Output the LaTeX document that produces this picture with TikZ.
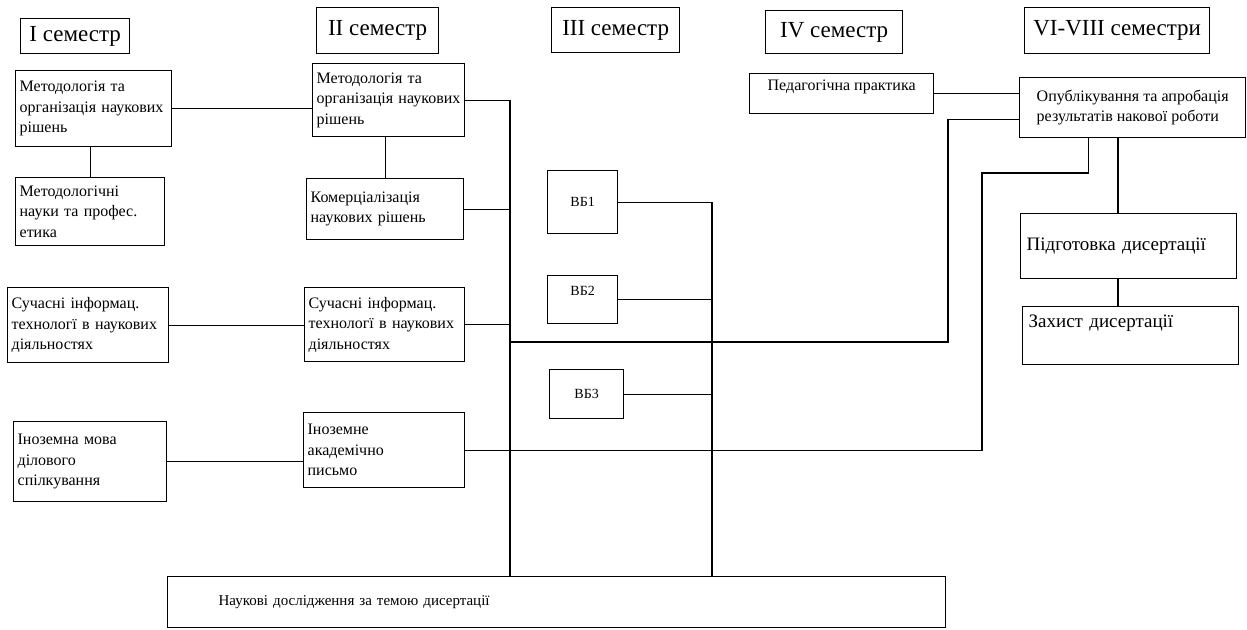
\documentclass[tikz,border=0pt]{standalone}
\usepackage{fontspec}
\setmainfont{Liberation Serif}
\usepackage{tikz}
\usetikzlibrary{calc}

\begin{document}
\begin{tikzpicture}[x=1pt, y=-1pt,
  box/.style={draw, line width=1.3pt, inner xsep=4pt, inner ysep=0pt, anchor=north west, align=left, font=\fontsize{16}{20.5}\selectfont},
  sem/.style={box, align=center, font=\fontsize{23}{27}\selectfont},
  big/.style={box, inner xsep=6pt, font=\fontsize{19}{23}\selectfont},
  link/.style={line width=1.2pt}]

\fill[white] (0,0) rectangle (1247,629);
\useasboundingbox (0,0) rectangle (1247,629);

% semesters
\node[sem, minimum width=109pt, minimum height=35pt] (sem1) at (20,18) {I семестр};
\node[sem, minimum width=122pt, minimum height=46pt] (sem2) at (316,7) {II семестр};
\node[sem, minimum width=128pt, minimum height=45pt] (sem3) at (551,7) {III семестр};
\node[sem, minimum width=137pt, minimum height=43pt] (sem4) at (765,10) {IV семестр};
\node[sem, minimum width=185pt, minimum height=46pt] (sem6) at (1024,7) {VI-VIII семестри};

% I and II semester
\node[box, minimum width=156pt, minimum height=76pt, text width=148pt] (metod1) at (15,70) {Методологія та\\організація наукових\\рішень};
\node[box, minimum width=149pt, minimum height=68pt, text width=141pt] (etyka) at (15,177) {Методологічні\\науки та профес.\\етика};
\node[box, minimum width=152pt, minimum height=73pt, text width=144pt] (metod2) at (312,63) {Методологія та\\організація наукових\\рішень};
\node[box, minimum width=157pt, minimum height=61pt, text width=149pt] (komerc) at (306,178) {Комерціалізація\\наукових рішень};
\node[box, minimum width=161pt, minimum height=75pt, text width=153pt] (it1) at (7,287) {Сучасні інформац.\\технологї в наукових\\діяльностях};
\node[box, minimum width=160pt, minimum height=74pt, text width=152pt] (it2) at (304,287) {Сучасні інформац.\\технологї в наукових\\діяльностях};
\node[box, minimum width=153pt, minimum height=80pt, text width=145pt] (mova1) at (13,421) {Іноземна мова\\ділового\\спілкування};
\node[box, minimum width=161pt, minimum height=75pt, text width=153pt] (mova2) at (303,412) {Іноземне\\академічно\\письмо};

% III semester
\node[box, align=center, font=\fontsize{14}{17}\selectfont, minimum width=70pt, minimum height=63pt] (vb1) at (547,170) {ВБ1};
\node[box, align=center, font=\fontsize{14}{17}\selectfont, minimum width=70pt, minimum height=48pt, text depth=17pt] (vb2) at (547,275) {ВБ2};
\node[box, align=center, font=\fontsize{14}{17}\selectfont, minimum width=74pt, minimum height=49pt] (vb3) at (549,369) {ВБ3};

% IV and VI-VIII semesters
\node[box, align=center, minimum width=184pt, minimum height=40pt, text depth=16pt] (prakt) at (749,73) {Педагогічна практика};
\node[box, minimum width=226pt, minimum height=60pt] (publ) at (1019,77) {Опублікування та апробація\\результатів накової роботи};
\node[big, minimum width=216pt, minimum height=65pt, text width=204pt] (pidg) at (1020,213) {Підготовка дисертації};
\node[big, minimum width=216pt, minimum height=58pt, text width=204pt, text depth=28pt] (zahyst) at (1022,306) {Захист дисертації};

% research
\node[box, inner xsep=51pt, font=\fontsize{15}{18}\selectfont, minimum width=778pt, minimum height=51pt, text width=676pt] (dosl) at (167,576) {Наукові дослідження за темою дисертації};

\coordinate (busL) at (510,98);
\coordinate (busR) at (712,199);
\coordinate (bendS) at (948,342);
\coordinate (bendI) at (982,173);
\coordinate (publL) at ([yshift=-12pt]publ.west);
\coordinate (publB) at ([xshift=-44pt]publ.south);
\coordinate (vert) at (1118,0);

\draw[link] (metod1.east) -- (metod1.east -| metod2.west);
\draw[link] (etyka.north) -- (etyka.north |- metod1.south);
\draw[link] (komerc.north) -- (komerc.north |- metod2.south);
\draw[link] (it1.east) -- (it1.east -| it2.west);
\draw[link] (mova1.east) -- (mova1.east -| mova2.west);

\draw[link] (metod2.east) -- (metod2.east -| busL) -- (busL |- dosl.north);
\draw[link] (komerc.east) -- (komerc.east -| busL);
\draw[link] (it2.east) -- (it2.east -| busL);
\draw[link] (busL |- bendS) -- (bendS) -- (bendS |- publL) -- (publL);
\draw[link] (mova2.east) -- (mova2.east -| bendI) -- (bendI) -- (bendI -| publB) -- (publB);

\draw[link] (vb1.east) -- (vb1.east -| busR) -- (busR |- dosl.north);
\draw[link] (vb2.east) -- (vb2.east -| busR);
\draw[link] (vb3.east) -- (vb3.east -| busR);

\draw[link] (prakt.east) -- (prakt.east -| publ.west);
\draw[link] (vert |- publ.south) -- (vert |- pidg.north);
\draw[link] (vert |- pidg.south) -- (vert |- zahyst.north);

\end{tikzpicture}
\end{document}
